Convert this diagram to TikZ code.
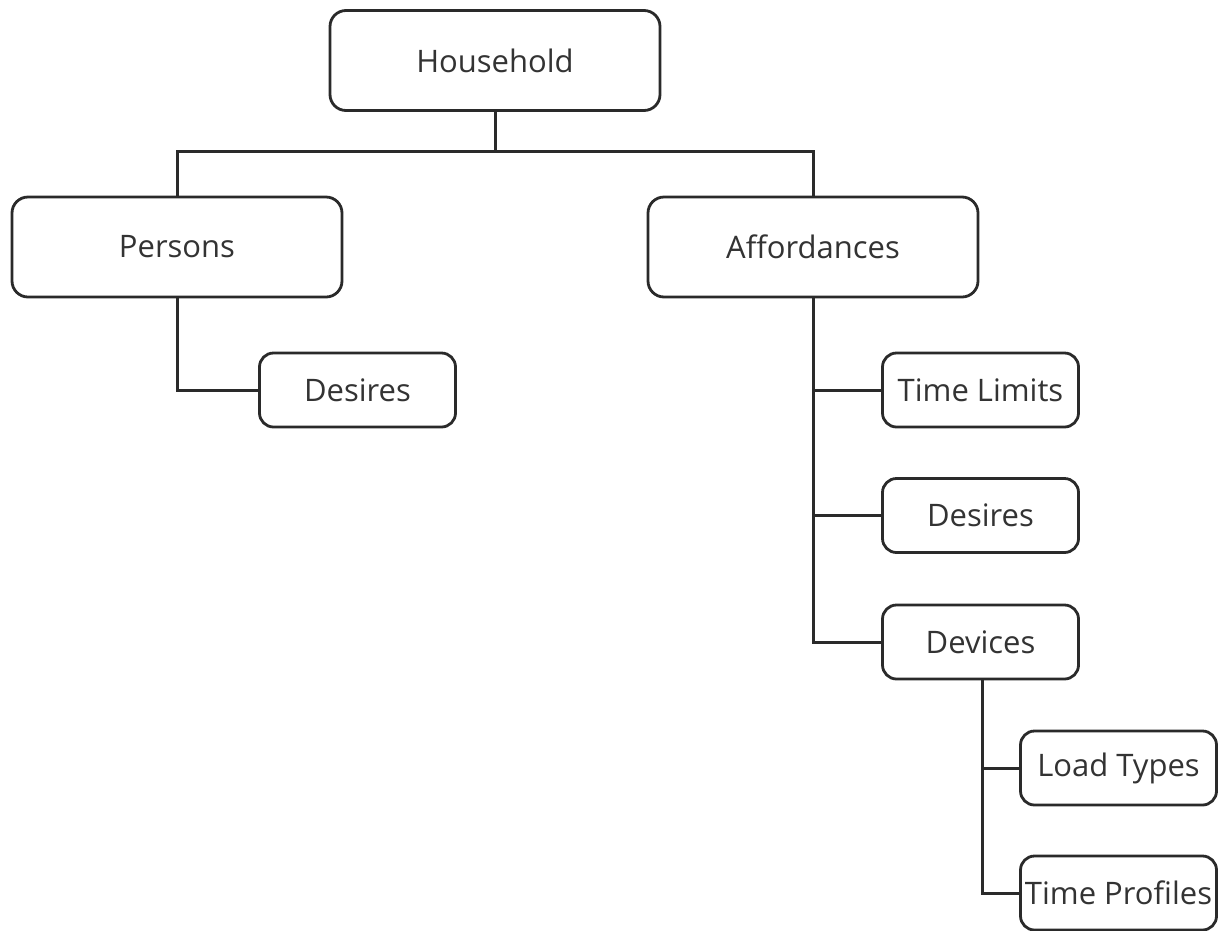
\documentclass[tikz,border=0pt]{standalone}
\usepackage{fontspec}
\setmainfont{Open Sans}
\definecolor{edge}{HTML}{2A2A2A}
\definecolor{txt}{HTML}{333333}
\begin{document}
\begin{tikzpicture}[x=1pt,y=-1pt,
  bigbox/.style={draw=edge,line width=2.8pt,rounded corners=16pt,fill=white,
    minimum width=330pt,minimum height=100pt,inner sep=0pt,
    font=\fontsize{31}{36}\selectfont,text=txt},
  smallbox/.style={draw=edge,line width=2.8pt,rounded corners=14pt,fill=white,
    minimum width=196pt,minimum height=74pt,inner sep=0pt,
    font=\fontsize{31}{36}\selectfont,text=txt},
  link/.style={color=edge,line width=3pt}]
\clip (0,0) rectangle (1222,930);
\useasboundingbox (0,0) rectangle (1222,930);
\node[bigbox] (hh) at (495,60.5) {Household};
\node[bigbox] (per) at (177,247) {Persons};
\node[bigbox] (aff) at (813,247) {Affordances};
\node[smallbox] (desL) at (357.5,390) {Desires};
\node[smallbox] (tl) at (980.5,390) {Time Limits};
\node[smallbox] (desR) at (980.5,515.5) {Desires};
\node[smallbox] (dev) at (980.5,642) {Devices};
\node[smallbox] (lt) at (1118.5,768) {Load Types};
\node[smallbox] (tp) at (1118.5,893) {Time Profiles};
\draw[link] (hh.south) -- (hh.south |- 0,151) coordinate (j);
\draw[link] (per.north) |- (j) -| (aff.north);
\draw[link] (per.south) |- (desL.west);
\draw[link] (aff.south) |- (dev.west);
\draw[link] (aff.south |- tl.west) -- (tl.west);
\draw[link] (aff.south |- desR.west) -- (desR.west);
\draw[link] ([xshift=2pt]dev.south) |- (tp.west);
\draw[link] ([xshift=2pt]dev.south |- lt.west) -- (lt.west);
\end{tikzpicture}
\end{document}
